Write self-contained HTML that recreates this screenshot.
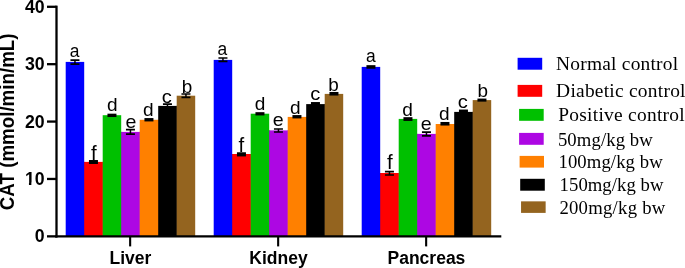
<!DOCTYPE html>
<html><head><meta charset="utf-8"><title>CAT</title>
<style>
html,body{margin:0;padding:0;background:#fff;}
svg{display:block;}
.b{font-family:"Liberation Sans",Arial,sans-serif;font-weight:bold;font-size:17.7px;fill:#000;}
.t{font-family:"Liberation Sans",Arial,sans-serif;font-weight:bold;font-size:18.75px;fill:#000;}
.l{font-family:"Liberation Sans",Arial,sans-serif;font-size:18px;fill:#000;text-anchor:middle;}
.g{font-family:"Liberation Serif","Times New Roman",serif;font-size:18.7px;fill:#000;}
</style></head><body>
<svg width="685" height="268" viewBox="0 0 685 268">
<rect width="685" height="268" fill="#fff"/>
<rect x="83.70" y="161.90" width="1.5" height="74.45" fill="#0000FF"/>
<rect x="65.70" y="61.90" width="18.5" height="174.45" fill="#0000FF"/>
<rect x="102.20" y="161.90" width="1.5" height="74.45" fill="#FF0000"/>
<rect x="84.20" y="161.90" width="18.5" height="74.45" fill="#FF0000"/>
<rect x="120.70" y="131.90" width="1.5" height="104.45" fill="#00C000"/>
<rect x="102.70" y="115.20" width="18.5" height="121.15" fill="#00C000"/>
<rect x="139.20" y="131.90" width="1.5" height="104.45" fill="#AD07E3"/>
<rect x="121.20" y="131.90" width="18.5" height="104.45" fill="#AD07E3"/>
<rect x="157.70" y="119.80" width="1.5" height="116.55" fill="#FF8000"/>
<rect x="139.70" y="119.80" width="18.5" height="116.55" fill="#FF8000"/>
<rect x="176.20" y="105.90" width="1.5" height="130.45" fill="#000000"/>
<rect x="158.20" y="105.90" width="18.5" height="130.45" fill="#000000"/>
<rect x="176.70" y="95.70" width="18.5" height="140.65" fill="#94641F"/>
<rect x="231.70" y="154.00" width="1.5" height="82.35" fill="#0000FF"/>
<rect x="213.70" y="59.90" width="18.5" height="176.45" fill="#0000FF"/>
<rect x="250.20" y="154.00" width="1.5" height="82.35" fill="#FF0000"/>
<rect x="232.20" y="154.00" width="18.5" height="82.35" fill="#FF0000"/>
<rect x="268.70" y="130.40" width="1.5" height="105.95" fill="#00C000"/>
<rect x="250.70" y="113.70" width="18.5" height="122.65" fill="#00C000"/>
<rect x="287.20" y="130.40" width="1.5" height="105.95" fill="#AD07E3"/>
<rect x="269.20" y="130.40" width="18.5" height="105.95" fill="#AD07E3"/>
<rect x="305.70" y="116.90" width="1.5" height="119.45" fill="#FF8000"/>
<rect x="287.70" y="116.90" width="18.5" height="119.45" fill="#FF8000"/>
<rect x="324.20" y="104.10" width="1.5" height="132.25" fill="#000000"/>
<rect x="306.20" y="104.10" width="18.5" height="132.25" fill="#000000"/>
<rect x="324.70" y="93.90" width="18.5" height="142.45" fill="#94641F"/>
<rect x="379.70" y="173.00" width="1.5" height="63.35" fill="#0000FF"/>
<rect x="361.70" y="66.90" width="18.5" height="169.45" fill="#0000FF"/>
<rect x="398.20" y="173.00" width="1.5" height="63.35" fill="#FF0000"/>
<rect x="380.20" y="173.00" width="18.5" height="63.35" fill="#FF0000"/>
<rect x="416.70" y="133.90" width="1.5" height="102.45" fill="#00C000"/>
<rect x="398.70" y="118.90" width="18.5" height="117.45" fill="#00C000"/>
<rect x="435.20" y="133.90" width="1.5" height="102.45" fill="#AD07E3"/>
<rect x="417.20" y="133.90" width="18.5" height="102.45" fill="#AD07E3"/>
<rect x="453.70" y="124.00" width="1.5" height="112.35" fill="#FF8000"/>
<rect x="435.70" y="124.00" width="18.5" height="112.35" fill="#FF8000"/>
<rect x="472.20" y="111.90" width="1.5" height="124.45" fill="#000000"/>
<rect x="454.20" y="111.90" width="18.5" height="124.45" fill="#000000"/>
<rect x="472.70" y="100.10" width="18.5" height="136.25" fill="#94641F"/>
<g stroke="#000" stroke-width="2.3" fill="none">
<path d="M56.5 5.65V237.55"/>
<path d="M55.35 236.35H501.3"/>
<path d="M47 236.35H56.5"/>
<path d="M47 178.96H56.5"/>
<path d="M47 121.57H56.5"/>
<path d="M47 64.18H56.5"/>
<path d="M47 6.79H56.5"/>
<path d="M130.15 236.35V246.4" stroke-width="2.1"/>
<path d="M278.15 236.35V246.4" stroke-width="2.1"/>
<path d="M426.15 236.35V246.4" stroke-width="2.1"/>
</g>
<g stroke="#000" stroke-width="1.65" fill="none">
<path d="M70.45 60.10H79.45M70.45 64.20H79.45"/><path stroke-width="1.5" d="M74.95 60.10V64.20"/>
<rect x="88.95" y="160.02" width="9" height="3.96" fill="#000" stroke="none"/>
<rect x="107.45" y="113.67" width="9" height="3.36" fill="#000" stroke="none"/>
<path d="M125.95 129.55H134.95M125.95 134.05H134.95"/><path stroke-width="1.5" d="M130.45 129.55V134.05"/>
<rect x="144.45" y="118.07" width="9" height="3.36" fill="#000" stroke="none"/>
<path d="M162.95 104.10H171.95M162.95 107.60H171.95"/><path stroke-width="1.5" d="M167.45 104.10V107.60"/>
<path d="M181.45 94.00H190.45M181.45 97.30H190.45"/><path stroke-width="1.5" d="M185.95 94.00V97.30"/>
<path d="M218.45 58.00H227.45M218.45 61.40H227.45"/><path stroke-width="1.5" d="M222.95 58.00V61.40"/>
<rect x="236.95" y="152.27" width="9" height="4.16" fill="#000" stroke="none"/>
<rect x="255.45" y="112.17" width="9" height="3.26" fill="#000" stroke="none"/>
<path d="M273.95 129.00H282.95M273.95 132.00H282.95"/><path stroke-width="1.5" d="M278.45 129.00V132.00"/>
<rect x="292.45" y="115.07" width="9" height="3.36" fill="#000" stroke="none"/>
<rect x="310.95" y="102.05" width="9" height="3.90" fill="#000" stroke="none"/>
<rect x="329.45" y="91.97" width="9" height="3.56" fill="#000" stroke="none"/>
<rect x="366.45" y="65.17" width="9" height="3.56" fill="#000" stroke="none"/>
<path d="M384.95 171.55H393.95M384.95 174.95H393.95"/><path stroke-width="1.5" d="M389.45 171.55V174.95"/>
<rect x="403.45" y="117.17" width="9" height="3.76" fill="#000" stroke="none"/>
<path d="M421.95 132.10H430.95M421.95 135.90H430.95"/><path stroke-width="1.5" d="M426.45 132.10V135.90"/>
<rect x="440.45" y="121.97" width="9" height="3.56" fill="#000" stroke="none"/>
<rect x="458.95" y="109.55" width="9" height="3.90" fill="#000" stroke="none"/>
<rect x="477.45" y="98.57" width="9" height="3.06" fill="#000" stroke="none"/>
</g>
<text class="l" transform="translate(74.50 57.35) scale(0.97 1.03)">a</text>
<text class="l" transform="translate(93.95 159.80) scale(1.14 1.08)">f</text>
<text class="l" transform="translate(112.25 111.40) scale(1.06 1)">d</text>
<text class="l" transform="translate(131.05 127.50) scale(1.09 1)">e</text>
<text class="l" transform="translate(148.20 116.40) scale(1.06 1)">d</text>
<text class="l" transform="translate(166.85 103.00) scale(1.12 1)">c</text>
<text class="l" transform="translate(186.95 92.80) scale(1.05 1.05)">b</text>
<text class="l" transform="translate(222.40 55.40) scale(0.97 1.03)">a</text>
<text class="l" transform="translate(241.45 152.00) scale(1.14 1.08)">f</text>
<text class="l" transform="translate(260.05 110.30) scale(1.06 1)">d</text>
<text class="l" transform="translate(278.10 126.40) scale(1.09 1)">e</text>
<text class="l" transform="translate(295.30 113.80) scale(1.06 1)">d</text>
<text class="l" transform="translate(315.40 99.80) scale(1.12 1)">c</text>
<text class="l" transform="translate(333.40 91.30) scale(1.05 1.05)">b</text>
<text class="l" transform="translate(370.75 62.35) scale(0.97 1.03)">a</text>
<text class="l" transform="translate(389.95 169.00) scale(1.14 1.08)">f</text>
<text class="l" transform="translate(407.60 115.90) scale(1.06 1)">d</text>
<text class="l" transform="translate(426.20 129.50) scale(1.09 1)">e</text>
<text class="l" transform="translate(444.35 120.40) scale(1.06 1)">d</text>
<text class="l" transform="translate(462.85 107.90) scale(1.12 1)">c</text>
<text class="l" transform="translate(482.70 96.70) scale(1.05 1.05)">b</text>
<text class="b" text-anchor="end" x="44.6" y="242.45">0</text>
<text class="b" text-anchor="end" x="44.6" y="185.06">10</text>
<text class="b" text-anchor="end" x="44.6" y="127.67">20</text>
<text class="b" text-anchor="end" x="44.6" y="70.28">30</text>
<text class="b" text-anchor="end" x="44.6" y="12.89">40</text>
<rect x="25.2" y="182.61" width="3.75" height="3" fill="#fff"/><rect x="31.35" y="182.61" width="3.8" height="3" fill="#fff"/>
<text class="b" style="font-size:17.5px" text-anchor="middle" x="130.45" y="264.4">Liver</text>
<text class="b" style="font-size:17.5px" text-anchor="middle" x="278.45" y="264.4">Kidney</text>
<text class="b" style="font-size:17.5px" text-anchor="middle" x="426.45" y="264.4">Pancreas</text>
<text class="t" text-anchor="middle" transform="translate(14.3 121.85) rotate(-90) scale(1 1.035)">CAT (mmol/min/mL)</text>
<rect x="517.6" y="57.8" width="24.6" height="11.9" fill="#0000FF"/>
<text class="g" transform="translate(556.1 69.7) scale(1.04 1)" textLength="117.31" lengthAdjust="spacing">Normal control</text>
<rect x="517.6" y="84.9" width="24.6" height="11.9" fill="#FF0000"/>
<text class="g" transform="translate(556.1 96.8) scale(1.04 1)" textLength="124.42" lengthAdjust="spacing">Diabetic control</text>
<rect x="519.1" y="108.9" width="24.6" height="11.9" fill="#00C000"/>
<text class="g" transform="translate(558.2 121.0) scale(1.04 1)" textLength="121.63" lengthAdjust="spacing">Positive control</text>
<rect x="519.1" y="132.9" width="24.6" height="11.9" fill="#AD07E3"/>
<text class="g" transform="translate(557.9 145.7) scale(1.0 1)" textLength="94.90" lengthAdjust="spacing">50mg/kg bw</text>
<rect x="519.6" y="155.9" width="24.4" height="11.7" fill="#FF8000"/>
<text class="g" transform="translate(558.5 168.2) scale(1.0 1)" textLength="104.20" lengthAdjust="spacing">100mg/kg bw</text>
<rect x="520.2" y="178.8" width="24.6" height="11.9" fill="#000000"/>
<text class="g" transform="translate(559.6 191.0) scale(1.0 1)" textLength="103.80" lengthAdjust="spacing">150mg/kg bw</text>
<rect x="521.05" y="201.35" width="24.6" height="11.55" fill="#94641F"/>
<text class="g" transform="translate(559.4 213.7) scale(1.0 1)" textLength="105.90" lengthAdjust="spacing">200mg/kg bw</text>
</svg>
</body></html>
